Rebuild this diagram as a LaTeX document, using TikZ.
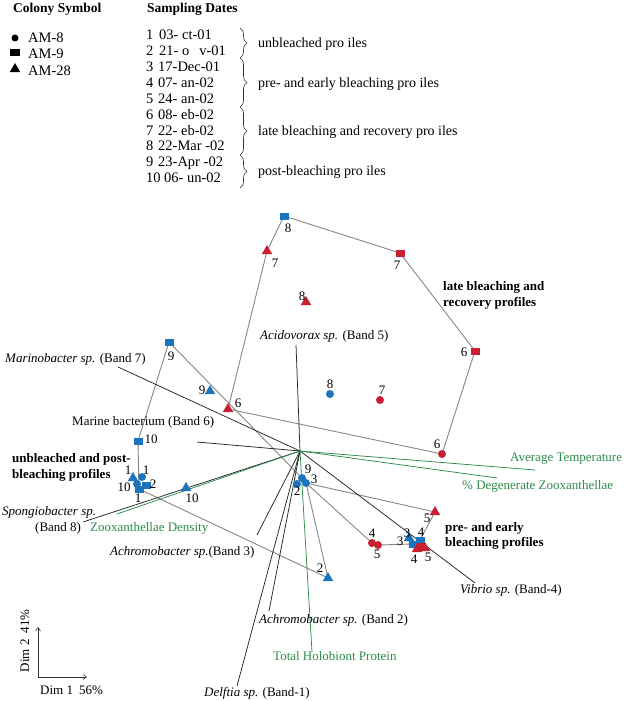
\documentclass[tikz,border=0pt]{standalone}
\usepackage{fontspec}
\setmainfont{Liberation Serif}
\usetikzlibrary{shapes.geometric,decorations.pathreplacing,arrows.meta}
\definecolor{bl}{RGB}{28,117,188}
\definecolor{rd}{RGB}{200,32,48}
\definecolor{gn}{RGB}{45,140,75}
\definecolor{hl}{RGB}{135,135,135}
\begin{document}
\begin{tikzpicture}[x=1pt,y=-1pt,
  font=\fontsize{13}{15}\selectfont,
  every node/.style={inner sep=0pt},
  circ/.style={circle,minimum size=8pt},
  sqr/.style={rectangle,minimum width=9pt,minimum height=7pt},
  tri/.style={regular polygon,regular polygon sides=3,minimum size=12pt},
  hull/.style={draw=hl,line width=0.9pt},
  vec/.style={draw=black!85,line width=0.75pt},
  gvec/.style={draw=gn,line width=0.75pt},
  lab/.style={anchor=west},
  leg/.style={anchor=base west,font=\fontsize{14.5}{16}\selectfont},
  glab/.style={anchor=west,text=gn},
  grp/.style={anchor=west,font=\fontsize{13}{15}\selectfont\bfseries},
  brc/.style={draw=black!80,line width=0.6pt,decorate,decoration={brace,amplitude=7pt}}]
\fill[white] (0,0) rectangle (627,701);
\useasboundingbox (0,0) rectangle (627,701);

% ---------- legend ----------
\node[grp,font=\fontsize{13.5}{15}\selectfont\bfseries] (tCol) at (13,9) {Colony Symbol};
\node[grp,font=\fontsize{13.5}{15}\selectfont\bfseries] (tSam) at (147,9) {Sampling Dates};
\node[circ,fill=black,minimum size=7pt] (lgC) at (15,38) {};
\node[sqr,fill=black,minimum width=10pt] (lgS) at (15,53) {};
\node[tri,fill=black] (lgT) at (15,69) {};
\node[leg] (lgCt) at (28,43) {AM-8};
\node[leg] (lgSt) at (28,59) {AM-9};
\node[leg] (lgTt) at (28,75) {AM-28};

\node[leg] (n1) at (146,40) {1};   \node[leg] (d1) at (159,40) {03- ct-01};
\node[leg] (n2) at (146,56) {2};   \node[leg] (d2) at (159,56) {21- o\hspace{10pt}v-01};
\node[leg] (n3) at (146,71) {3};   \node[leg] (d3) at (158,71) {17-Dec-01};
\node[leg] (n4) at (146,87) {4};   \node[leg] (d4) at (158,87) {07- an-02};
\node[leg] (n5) at (146,103) {5};  \node[leg] (d5) at (158,103) {24- an-02};
\node[leg] (n6) at (146,119) {6};  \node[leg] (d6) at (158,119) {08- eb-02};
\node[leg] (n7) at (146,135) {7};  \node[leg] (d7) at (158,135) {22- eb-02};
\node[leg] (n8) at (146,150) {8};  \node[leg] (d8) at (158,150) {22-Mar -02};
\node[leg] (n9) at (146,166) {9};  \node[leg] (d9) at (158,166) {23-Apr -02};
\node[leg] (n10) at (146,182) {10}; \node[leg] (d10) at (164,182) {06- un-02};

\coordinate (b1a) at (240,28);  \coordinate (b1b) at (240,58);
\coordinate (b2a) at (240,58);  \coordinate (b2b) at (240,107);
\coordinate (b3a) at (240,107); \coordinate (b3b) at (240,155);
\coordinate (b4a) at (240,155); \coordinate (b4b) at (240,188);
\draw[brc] (b1a) -- (b1b);
\draw[brc] (b2a) -- (b2b);
\draw[brc] (b3a) -- (b3b);
\draw[brc] (b4a) -- (b4b);
\node[leg,font=\fontsize{14}{16}\selectfont] (bt1) at (258,48) {unbleached pro iles};
\node[leg,font=\fontsize{14}{16}\selectfont] (bt2) at (258,87) {pre- and early bleaching pro iles};
\node[leg,font=\fontsize{14}{16}\selectfont] (bt3) at (258,135) {late bleaching and recovery pro iles};
\node[leg,font=\fontsize{14}{16}\selectfont] (bt4) at (258,175) {post-bleaching pro iles};

% ---------- biplot vectors ----------
\coordinate (O) at (300,451);
\coordinate (eAcid) at (296,345);
\coordinate (eMarino) at (118,367);
\coordinate (eMarine) at (197,442);
\coordinate (eSpon) at (83,522);
\coordinate (eAch3) at (257,535);
\coordinate (eAch2) at (269,611);
\coordinate (eDelf) at (237,686);
\coordinate (eVib) at (475,583);
\coordinate (eZoo) at (117,514);
\coordinate (eTHP) at (312,652);
\coordinate (eAvg) at (535,470);
\coordinate (eDeg) at (497,478);

% ---------- point positions ----------
\coordinate (pSq8) at (284,216);
\coordinate (pSq9) at (169,342);
\coordinate (pSq10) at (138,441);
\coordinate (pT9) at (210,391);
\coordinate (pC8) at (330,394);
\coordinate (pT10) at (186,488);
\coordinate (pT2) at (328,578);
\coordinate (pC9) at (302,478);
\coordinate (pC3) at (306,483);
\coordinate (pC2) at (297,484);
\coordinate (pT1) at (133,478);
\coordinate (pC1) at (142,477);
\coordinate (pC10) at (137,484);
\coordinate (pSq2) at (146,485);
\coordinate (pSq1) at (139,489);
\coordinate (pT3) at (409,538);
\coordinate (pSq3) at (413,544);
\coordinate (pSq4) at (420,540);
\coordinate (pT7) at (267,251);
\coordinate (pSq7) at (400,253);
\coordinate (pT8) at (306,302);
\coordinate (pSq6) at (475,351);
\coordinate (pC7) at (380,400);
\coordinate (pT6) at (228,409);
\coordinate (pC6) at (442,454);
\coordinate (pT5) at (435,512);
\coordinate (pC4) at (372,543);
\coordinate (pC5) at (378,545);
\coordinate (pT4) at (417,549);
\coordinate (pT5b) at (425,548);
\coordinate (pSq5) at (421,546);

% ---------- hulls ----------
\draw[hull] (pSq8) -- (pSq7) -- (pSq6) -- (pC6) -- (pT6) -- (pT7) -- cycle;
\draw[hull] (pSq9) -- (pSq10) -- (pSq1) -- (pT2) -- (pC3) -- (pC9) -- cycle;
\draw[hull] (pC3) -- (pT5) -- (pSq4) -- (pSq3) -- (pC5) -- (pC4) -- cycle;

% ---------- vectors ----------
\draw[vec] (O) -- (eAcid);
\draw[vec] (O) -- (eMarino);
\draw[vec] (O) -- (eMarine);
\draw[vec] (O) -- (eSpon);
\draw[vec] (O) -- (eAch3);
\draw[vec] (O) -- (eAch2);
\draw[vec] (O) -- (eDelf);
\draw[vec] (O) -- (eVib);
\draw[gvec] (O) -- (eZoo);
\draw[gvec] (O) -- (eTHP);
\draw[gvec] (O) -- (eAvg);
\draw[gvec] (O) -- (eDeg);

% ---------- markers ----------
\node[sqr,fill=bl] (mSq8) at (pSq8) {};
\node[sqr,fill=bl] (mSq9) at (pSq9) {};
\node[sqr,fill=bl] (mSq10) at (pSq10) {};
\node[tri,fill=bl] (mT9) at (pT9) {};
\node[circ,fill=bl] (mC8) at (pC8) {};
\node[tri,fill=bl] (mT10) at (pT10) {};
\node[tri,fill=bl] (mT2) at (pT2) {};
\node[circ,fill=bl] (mC9) at (pC9) {};
\node[circ,fill=bl] (mC3) at (pC3) {};
\node[circ,fill=bl] (mC2) at (pC2) {};
\node[tri,fill=bl] (mT1) at (pT1) {};
\node[circ,fill=bl] (mC1) at (pC1) {};
\node[circ,fill=bl] (mC10) at (pC10) {};
\node[sqr,fill=bl] (mSq2) at (pSq2) {};
\node[sqr,fill=bl] (mSq1) at (pSq1) {};
\node[tri,fill=bl] (mT3) at (pT3) {};
\node[sqr,fill=bl] (mSq3) at (pSq3) {};
\node[sqr,fill=bl] (mSq4) at (pSq4) {};
\node[tri,fill=rd] (mT7) at (pT7) {};
\node[sqr,fill=rd] (mSq7) at (pSq7) {};
\node[tri,fill=rd] (mT8) at (pT8) {};
\node[sqr,fill=rd] (mSq6) at (pSq6) {};
\node[circ,fill=rd] (mC7) at (pC7) {};
\node[tri,fill=rd] (mT6) at (pT6) {};
\node[circ,fill=rd] (mC6) at (pC6) {};
\node[tri,fill=rd] (mT5) at (pT5) {};
\node[circ,fill=rd] (mC4) at (pC4) {};
\node[circ,fill=rd] (mC5) at (pC5) {};
\node[sqr,fill=rd] (mSq5) at (pSq5) {};
\node[tri,fill=rd] (mT4) at (pT4) {};
\node[tri,fill=rd] (mT5b) at (pT5b) {};

% ---------- point numbers ----------
\node (lSq8) at (288,228) {8};
\node (lT7) at (275,263) {7};
\node (lSq7) at (397,265) {7};
\node (lT8) at (302,296) {8};
\node (lSq6) at (464,352) {6};
\node (lSq9) at (171,356) {9};
\node (lT9) at (202,390) {9};
\node (lC8) at (330,384) {8};
\node (lC7) at (382,390) {7};
\node (lT6) at (238,403) {6};
\node (lC6) at (437,444) {6};
\node (lSq10) at (151,439) {10};
\node (lT10) at (192,498) {10};
\node (lT2) at (320,568) {2};
\node (lC9) at (308,469) {9};
\node (lC3) at (314,479) {3};
\node (lC2) at (297,491) {2};
\node (lT1) at (128,470) {1};
\node (lC1) at (146,470) {1};
\node (lC10) at (124,487) {10};
\node (lSq2) at (153,484) {2};
\node (lSq1) at (138,498) {1};
\node (lT5) at (427,518) {5};
\node (lC4) at (372,533) {4};
\node (lC5) at (377,554) {5};
\node (lT3a) at (400,541) {3};
\node (lSq3) at (407,533) {3};
\node (lSq4) at (421,532) {4};
\node (lT4) at (414,559) {4};
\node (lT5b) at (428,557) {5};

% ---------- vector labels ----------
\node[lab] (tAcid) at (260,336) {\textit{Acidovorax sp.} (Band 5)};
\node[lab] (tMarino) at (5,359) {\textit{Marinobacter sp.} (Band 7)};
\node[lab] (tMarine) at (72,422) {Marine bacterium (Band 6)};
\node[lab] (tSpon) at (2,512) {\textit{Spongiobacter sp.}};
\node[lab] (tSpon2) at (35,528) {(Band 8)};
\node[glab] (tZoo) at (90,528) {Zooxanthellae Density};
\node[lab] (tAch3) at (110,552) {\textit{Achromobacter sp.}(Band 3)};
\node[lab] (tAch2) at (259,620) {\textit{Achromobacter sp.} (Band 2)};
\node[glab] (tTHP) at (273,656) {Total Holobiont Protein};
\node[lab] (tDelf) at (204,693) {\textit{Delftia sp.} (Band-1)};
\node[lab] (tVib) at (460,590) {\textit{Vibrio sp.} (Band-4)};
\node[glab] (tAvg) at (510,459) {Average Temperature};
\node[glab] (tDeg) at (462,486) {\% Degenerate Zooxanthellae};

% ---------- group labels ----------
\node[grp] (gLate1) at (443,287) {late bleaching and};
\node[grp] (gLate2) at (443,303) {recovery profiles};
\node[grp] (gUnb1) at (12,459) {unbleached and post-};
\node[grp] (gUnb2) at (12,475) {bleaching profiles};
\node[grp] (gPre1) at (445,528) {pre- and early};
\node[grp] (gPre2) at (445,543) {bleaching profiles};

% ---------- axes ----------
\coordinate (ax0) at (38,677);
\coordinate (axY) at (38,627);
\coordinate (axX) at (87,677);
\draw[black!80,line width=0.6pt,-{Straight Barb[length=3.5pt,width=5pt]}] (ax0) -- (axY);
\draw[black!80,line width=0.6pt,-{Straight Barb[length=3.5pt,width=5pt]}] (ax0) -- (axX);
\node[rotate=90] (tDim2) at (25,641) {Dim 2\hspace{6pt}41\%};
\node[lab] (tDim1) at (40,690) {Dim 1\hspace{6pt}56\%};
\end{tikzpicture}
\end{document}
